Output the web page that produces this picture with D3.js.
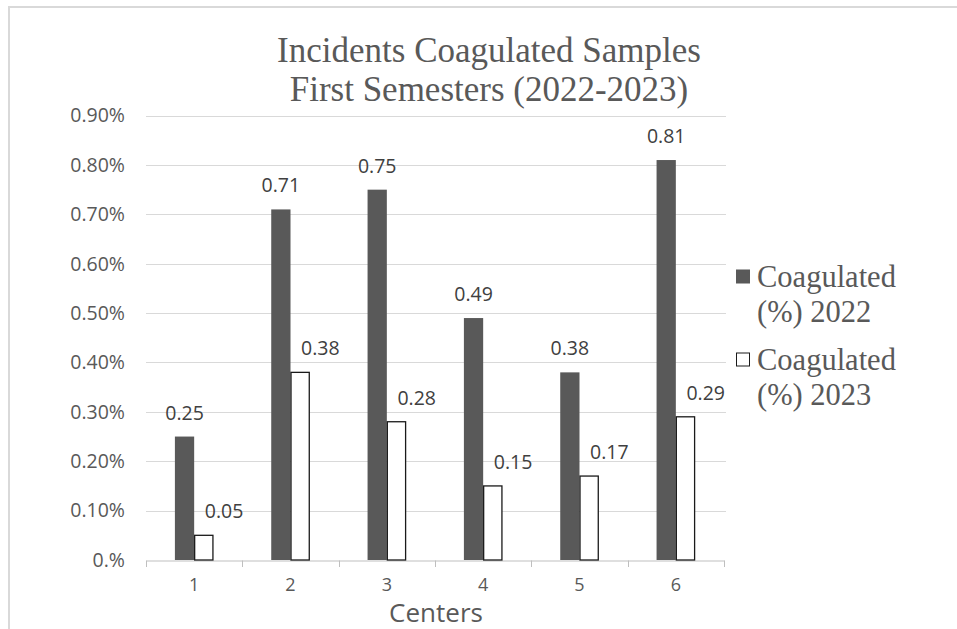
<!DOCTYPE html>
<html>
<head>
<meta charset="utf-8">
<script src="https://cdn.jsdelivr.net/npm/d3@7"></script>
<style>
  body { margin: 0; background: #fff; }
</style>
</head>
<body>
<div id="chart"></div>
<script>
var width = 957
var height = 629

// data
var centers = ["1", "2", "3", "4", "5", "6"]
var coag2022 = [0.25, 0.71, 0.75, 0.49, 0.38, 0.81]
var coag2023 = [0.05, 0.38, 0.28, 0.15, 0.17, 0.29]
var yTicks = [0, 0.1, 0.2, 0.3, 0.4, 0.5, 0.6, 0.7, 0.8, 0.9]
var seriesNames = ["Coagulated 2022", "Coagulated 2023"]
var titleLines = ["Incidents Coagulated Samples", "First Semesters (2022-2023)"]

var svg = d3.select("#chart")
  .append("svg")
    .attr("width", width)
    .attr("height", height)

// outer frame (top + left edges visible)
svg.append("line").attr("x1", 8).attr("x2", width).attr("y1", 7).attr("y2", 7)
  .attr("stroke", "#d9d9d9").attr("stroke-width", 2)
svg.append("line").attr("x1", 9).attr("x2", 9).attr("y1", 6).attr("y2", height)
  .attr("stroke", "#d9d9d9").attr("stroke-width", 2)

var x = d3.scaleBand()
  .domain(centers)
  .range([146, 724])
  .paddingInner(0)
  .paddingOuter(0)

var y = d3.scaleLinear()
  .domain([0, 0.9])
  .range([560, 115.6])

// gridlines
svg.append("g")
  .selectAll("line")
  .data(yTicks.filter(function(d) { return d > 0 }))
  .enter()
  .append("line")
    .attr("x1", 146)
    .attr("x2", 726)
    .attr("y1", function(d) { return Math.round(y(d)) + 0.5 })
    .attr("y2", function(d) { return Math.round(y(d)) + 0.5 })
    .attr("stroke", "#d9d9d9")
    .attr("stroke-width", 1)

// y tick labels
svg.append("g")
  .selectAll("text")
  .data(yTicks)
  .enter()
  .append("text")
    .attr("x", 125)
    .attr("y", function(d) { return y(d) })
    .attr("dy", "0.35em")
    .attr("text-anchor", "end")
    .style("font-family", "'Open Sans', sans-serif")
    .style("font-size", "19.5px")
    .style("fill", "#595959")
    .text(function(d) { return d === 0 ? "0.%" : d.toFixed(2) + "%" })

// x axis
var xAxis = d3.axisBottom(x).tickSize(0).tickSizeOuter(0)
var gx = svg.append("g")
  .attr("transform", "translate(0," + 560.5 + ")")
  .call(xAxis)
gx.select(".domain").attr("stroke", "#bfbfbf")
gx.selectAll(".tick text")
  .attr("y", 18)
  .style("font-family", "'Open Sans', sans-serif")
  .style("font-size", "18px")
  .style("fill", "#595959")

// category separator ticks
svg.append("g")
  .selectAll("line")
  .data(centers.concat(["end"]))
  .enter()
  .append("line")
    .attr("x1", function(d, i) { return Math.round(x.range()[0] + i * x.bandwidth()) + 0.5 })
    .attr("x2", function(d, i) { return Math.round(x.range()[0] + i * x.bandwidth()) + 0.5 })
    .attr("y1", 560.5)
    .attr("y2", 567)
    .attr("stroke", "#bfbfbf")

var bw = x.bandwidth() / 5
var groups = svg.append("g")
  .selectAll("g")
  .data(centers)
  .enter()
  .append("g")
    .attr("transform", function(d) { return "translate(" + (x(d) + x.bandwidth() / 2) + ",0)" })

groups.append("rect")
  .attr("x", -bw)
  .attr("width", bw)
  .attr("y", function(d, i) { return y(coag2022[i]) })
  .attr("height", function(d, i) { return y(0) - y(coag2022[i]) })
  .attr("fill", "#595959")

groups.append("rect")
  .attr("x", 0.5)
  .attr("width", bw - 1)
  .attr("y", function(d, i) { return y(coag2023[i]) })
  .attr("height", function(d, i) { return y(0) - y(coag2023[i]) })
  .attr("fill", "#fff")
  .attr("stroke", "#1a1a1a")
  .attr("stroke-width", 1.3)

var labelStyle = function(sel) {
  sel.attr("text-anchor", "middle")
    .style("font-family", "'Open Sans', sans-serif")
    .style("font-size", "19.5px")
    .style("fill", "#404040")
}

groups.append("text")
  .attr("x", -bw / 2)
  .attr("y", function(d, i) { return y(coag2022[i]) - 17 })
  .call(labelStyle)
  .text(function(d, i) { return coag2022[i].toFixed(2) })

// 2023 labels sit one bar width to the right of their bar
groups.append("text")
  .attr("x", bw * 1.55)
  .attr("y", function(d, i) { return y(coag2023[i]) - 17 })
  .call(labelStyle)
  .text(function(d, i) { return coag2023[i].toFixed(2) })

// title
svg.append("g")
  .selectAll("text")
  .data(titleLines)
  .enter()
  .append("text")
    .attr("x", 489)
    .attr("y", function(d, i) { return 62 + i * 39 })
    .attr("text-anchor", "middle")
    .style("font-family", "'Liberation Serif', 'Times New Roman', serif")
    .style("font-size", "35px")
    .style("fill", "#595959")
    .text(function(d) { return d })

// axis title
svg.append("text")
  .attr("x", 436)
  .attr("y", 622)
  .attr("text-anchor", "middle")
  .style("font-family", "'Open Sans', sans-serif")
  .style("font-size", "26px")
  .style("fill", "#595959")
  .text("Centers")

// legend
var legend = svg.append("g")
  .selectAll("g")
  .data(seriesNames)
  .enter()
  .append("g")
    .attr("transform", function(d, i) { return "translate(736," + (287 + i * 83) + ")" })

legend.append("rect")
  .attr("x", 0.5)
  .attr("y", -17)
  .attr("width", 13)
  .attr("height", 13)
  .attr("fill", function(d, i) { return i === 0 ? "#595959" : "#fff" })
  .attr("stroke", function(d, i) { return i === 0 ? "#595959" : "#1a1a1a" })

var lt = legend.append("text")
  .attr("x", 21)
  .attr("y", 0)
  .style("font-family", "'Liberation Serif', 'Times New Roman', serif")
  .style("font-size", "30.5px")
  .style("fill", "#595959")
lt.append("tspan").attr("x", 21).attr("dy", 0).text("Coagulated")
lt.append("tspan").attr("x", 21).attr("dy", 35).text(function(d) { return "(%) " + d.split(" ")[1] })
</script>
</body>
</html>
